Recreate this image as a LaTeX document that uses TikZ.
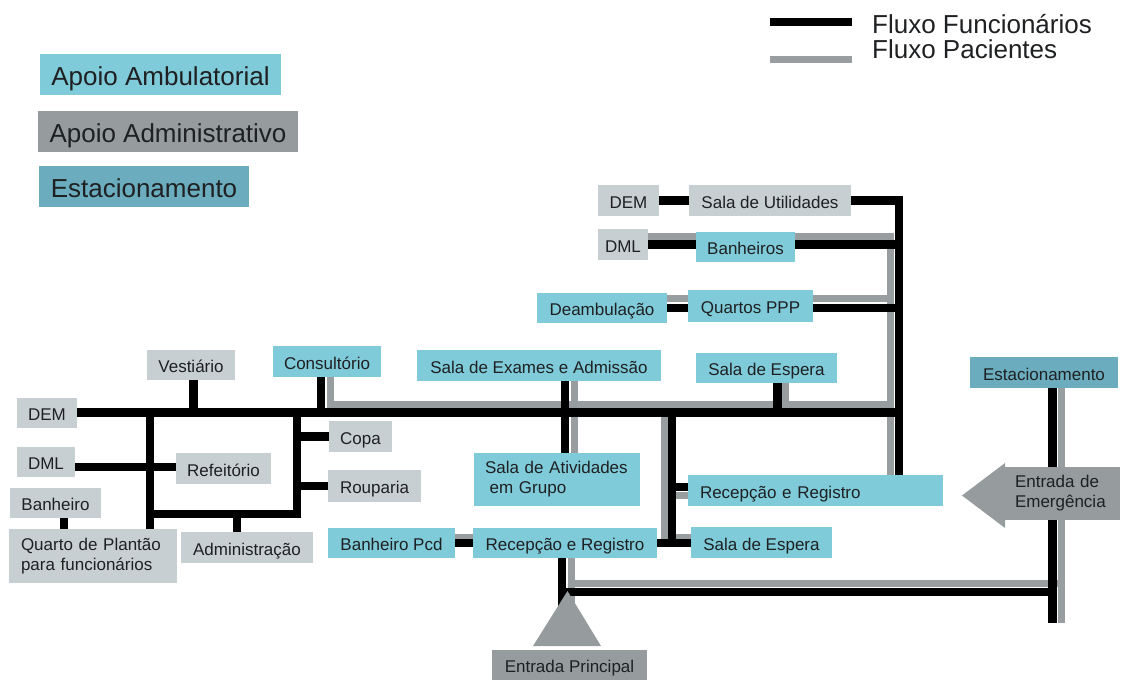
\documentclass[tikz,border=0pt]{standalone}
\usepackage{fontspec}
\setmainfont{Liberation Sans}

\definecolor{ambblue}{RGB}{128,203,217}
\definecolor{admlight}{RGB}{200,207,211}
\definecolor{admdark}{RGB}{150,156,158}
\definecolor{estteal}{RGB}{107,173,190}
\definecolor{pacgray}{RGB}{152,157,160}
\definecolor{txt}{RGB}{30,32,34}

\newcommand{\bodyfont}{\fontsize{17}{20}\selectfont}
\newcommand{\legfont}{\fontsize{26}{30}\selectfont}

\pgfdeclarelayer{background}
\pgfsetlayers{background,main}

\tikzset{
  box/.style={rectangle, inner sep=0pt, text=txt, font=\bodyfont, text height=16pt, text depth=1pt},
  lbox/.style={rectangle, inner xsep=12pt, inner ysep=0pt, text=txt, font=\bodyfont, align=left},
  legbox/.style={rectangle, inner sep=0pt, text=txt, font=\legfont, text height=23pt, text depth=2pt},
  amb/.style={fill=ambblue},
  adm/.style={fill=admlight},
  ent/.style={fill=admdark},
  est/.style={fill=estteal},
  func/.style={draw=black, line width=8.5pt, line join=miter},
  pac/.style={draw=pacgray, line width=7pt, line join=miter}
}

\begin{document}
\begin{tikzpicture}[x=1pt,y=-1pt]
\useasboundingbox (0,0) rectangle (1121,680);

% legenda
\node[legbox, amb, minimum width=241pt, minimum height=41pt] (legAmb) at (160.5,74.5) {Apoio Ambulatorial};
\node[legbox, ent, minimum width=260pt, minimum height=41pt] (legAdm) at (168,131.5) {Apoio Administrativo};
\node[legbox, est, minimum width=210pt, minimum height=41pt] (legEst) at (144,186.5) {Estacionamento};
\node[text=txt, font=\legfont, inner sep=0pt, anchor=base west] (legFunc) at (872,33) {Fluxo Funcion\'arios};
\node[text=txt, font=\legfont, inner sep=0pt, anchor=base west] (legPac) at (872,58) {Fluxo Pacientes};
\coordinate (lf1) at (770,22); \coordinate (lf2) at (852,22);
\coordinate (lp1) at (770,59); \coordinate (lp2) at (852,59);
\draw[func] (lf1) -- (lf2);
\draw[pac] (lp1) -- (lp2);

% apoio / funcionarios (esquerda)
\node[box, adm, minimum width=88pt, minimum height=30pt] (vestiario) at (191,365) {Vesti\'ario};
\node[box, amb, minimum width=108pt, minimum height=31pt] (consultorio) at (327,361.5) {Consult\'orio};
\node[box, adm, minimum width=60pt, minimum height=30pt] (dem1) at (47,412.5) {DEM};
\node[box, adm, minimum width=58pt, minimum height=30pt] (dml1) at (46,462) {DML};
\node[box, adm, minimum width=95pt, minimum height=31pt] (refeitorio) at (223.5,468.5) {Refeit\'orio};
\node[box, adm, minimum width=63pt, minimum height=31pt] (copa) at (360.5,436.5) {Copa};
\node[box, adm, minimum width=93pt, minimum height=32pt] (rouparia) at (374.5,486) {Rouparia};
\node[box, adm, minimum width=91pt, minimum height=30pt] (banheiro) at (55.5,503) {Banheiro};
\node[lbox, adm, text width=144pt, minimum height=54pt] (quarto) at (93,556) {Quarto de Plant\~ao\\para funcion\'arios};
\node[box, adm, minimum width=132pt, minimum height=31pt] (administracao) at (247,547.5) {Administra\c{c}\~ao};

% centro
\node[box, amb, minimum width=127pt, minimum height=30pt] (banheiroPcd) at (391.5,543) {Banheiro Pcd};
\node[box, amb, minimum width=244pt, minimum height=31pt] (exames) at (539,365.5) {Sala de Exames e Admiss\~ao};
\node[lbox, amb, inner xsep=11pt, text width=144pt, minimum height=53pt] (atividades) at (557,479.5) {Sala de Atividades\\\hspace*{4.7pt}em Grupo};
\node[box, amb, minimum width=184pt, minimum height=30pt] (recepcaoB) at (565,543) {Recep\c{c}\~ao e Registro};
\node[box, amb, minimum width=141pt, minimum height=31pt] (esperaB) at (761.5,542.5) {Sala de Espera};
\node[box, amb, inner xsep=12pt, align=left, text width=231pt, minimum height=31pt] (recepcaoA) at (815.5,490.5) {Recep\c{c}\~ao e Registro};
\node[box, amb, minimum width=141pt, minimum height=30pt] (esperaA) at (766.5,368) {Sala de Espera};
\node[box, ent, minimum width=155pt, minimum height=30pt] (principal) at (569.5,665) {Entrada Principal};

% topo
\node[box, adm, minimum width=61pt, minimum height=31pt] (dem2) at (628.5,200.5) {DEM};
\node[box, adm, minimum width=162pt, minimum height=31pt] (utilidades) at (770,200.5) {Sala de Utilidades};
\node[box, adm, minimum width=50pt, minimum height=31pt] (dml2) at (623,244.5) {DML};
\node[box, amb, minimum width=99pt, minimum height=30pt] (banheiros) at (745.5,247) {Banheiros};
\node[box, amb, minimum width=130pt, minimum height=30pt] (deambulacao) at (602,308) {Deambula\c{c}\~ao};
\node[box, amb, minimum width=125pt, minimum height=32pt] (quartos) at (750.5,306) {Quartos PPP};

% direita
\node[box, est, minimum width=148pt, minimum height=31pt] (estac) at (1044,372.5) {Estacionamento};
\node[lbox, ent, inner xsep=10pt, text width=95pt, minimum height=53pt] (emerg) at (1062.5,493.5) {Entrada de\\Emerg\^encia};

% entradas
\fill[ent] (962,495.5) -- (1005,463) -- (1005,528) -- cycle;
\fill[ent] (567.5,591) -- (533,646) -- (601,646) -- cycle;

% eixos e linhas de referencia
\coordinate (rowF) at (dem1.east);
\coordinate (rowP) at (0,404);
\coordinate (rowUp) at (0,236);
\coordinate (rowQp) at (0,298);
\coordinate (rowD) at (0,467);
\coordinate (rowB) at (0,514);
\coordinate (rowA) at (0,487);
\coordinate (rowAp) at (0,495);
\coordinate (rowBp) at (0,537);
\coordinate (rowE) at (0,592);
\coordinate (rowEp) at (0,583);
\coordinate (trunkR) at (899,0);
\coordinate (trunkP) at (890,0);
\coordinate (trunkL) at (150,0);
\coordinate (trunkC) at (297,0);
\coordinate (trunkM) at (672,0);
\coordinate (trunkMp) at (664,0);
\coordinate (trunkE) at ([xshift=8.5pt]estac.south);
\coordinate (trunkEp) at ([xshift=17pt]estac.south);
\coordinate (tipP) at (0,612);
\coordinate (endE) at (0,623);

\begin{pgfonlayer}{background}
% fluxo pacientes
\draw[pac] (dml2.east |- rowUp) -| (trunkP |- recepcaoA.north);
\draw[pac] (deambulacao.east |- rowQp) -- (trunkP |- rowQp);
\draw[pac] ([xshift=3pt]consultorio.south) |- (trunkP |- rowP);
\draw[pac] ([xshift=35.5pt]exames.south) -- ([xshift=35.5pt]exames.south |- atividades.north);
\draw[pac] ([xshift=18.5pt]esperaA.south) -- ([xshift=18.5pt]esperaA.south |- rowP);
\draw[pac] (trunkMp |- rowP) |- (esperaB.west |- rowBp);
\draw[pac] (trunkMp |- rowAp) -- (recepcaoA.west |- rowAp);
\draw[pac] (banheiroPcd.east |- rowBp) -- (recepcaoB.west |- rowBp);
\draw[pac] ([xshift=6pt]recepcaoB.south) -- ([xshift=6pt]recepcaoB.south |- tipP);
\draw[pac] ([xshift=6pt]recepcaoB.south |- rowEp) -- (trunkEp |- rowEp);
\draw[pac] (trunkEp) -- (trunkEp |- endE);

% fluxo funcionarios
\draw[func] (dem2) -- (utilidades);
\draw[func] (utilidades.east) -| (trunkR |- recepcaoA.north);
\draw[func] (dml2.east) -- (dml2.east -| trunkR);
\draw[func] (deambulacao.east) -- (deambulacao.east -| trunkR);
\draw[func] (dem1.east) -- (dem1.east -| trunkR);
\draw[func] ([xshift=2.5pt]vestiario.south) -- ([xshift=2.5pt]vestiario.south |- rowF);
\draw[func] ([xshift=-6pt]consultorio.south) -- ([xshift=-6pt]consultorio.south |- rowF);
\draw[func] (trunkL |- rowF) -- (trunkL |- quarto.north);
\draw[func] (dml1.east |- rowD) -- (refeitorio.west |- rowD);
\draw[func] (trunkC |- rowF) |- (trunkL |- rowB);
\draw[func] (copa.west) -- (copa.west -| trunkC);
\draw[func] (rouparia.west) -- (rouparia.west -| trunkC);
\draw[func] ([xshift=-10pt]administracao.north) -- ([xshift=-10pt]administracao.north |- rowB);
\draw[func] ([xshift=8.5pt]banheiro.south) -- ([xshift=8.5pt]banheiro.south |- quarto.north);
\draw[func] ([xshift=26pt]exames.south) -- ([xshift=26pt]exames.south |- atividades.north);
\draw[func] ([xshift=11pt]esperaA.south) -- ([xshift=11pt]esperaA.south |- rowF);
\draw[func] (trunkM |- rowF) -- (trunkM |- recepcaoB.east);
\draw[func] (trunkM |- rowA) -- (recepcaoA.west |- rowA);
\draw[func] (banheiroPcd.east) -- (recepcaoB.west);
\draw[func] (recepcaoB.east) -- (esperaB.west |- recepcaoB.east);
\draw[func] ([xshift=-3pt]recepcaoB.south) -- ([xshift=-3pt]recepcaoB.south |- tipP);
\draw[func] ([xshift=-3pt]recepcaoB.south |- rowE) -- (trunkE |- rowE);
\draw[func] (trunkE) -- (trunkE |- endE);
\end{pgfonlayer}
\end{tikzpicture}
\end{document}
